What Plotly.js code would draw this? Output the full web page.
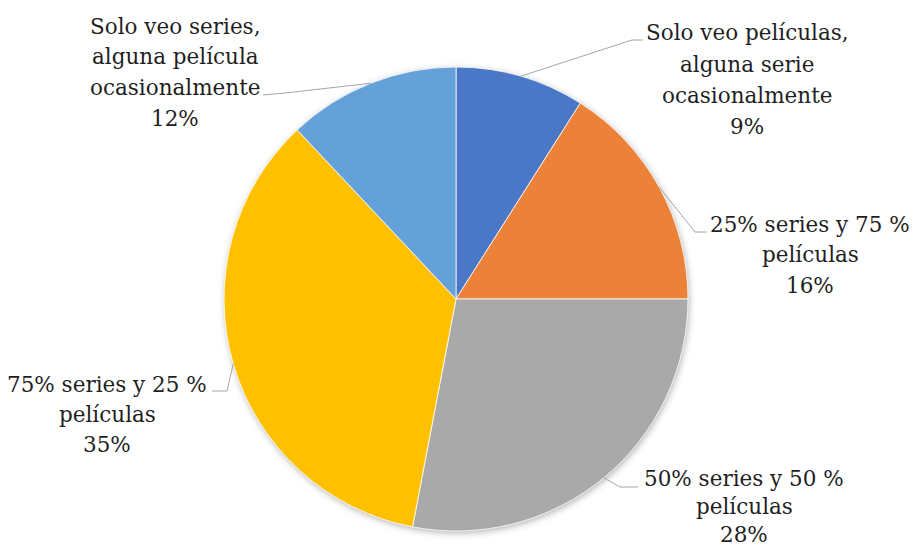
<!DOCTYPE html>
<html>
<head>
<meta charset="utf-8">
<script src="https://cdn.plot.ly/plotly-3.0.1.min.js"></script>
<style>
  html, body { margin: 0; padding: 0; background: #fff; }
  #chart { width: 914px; height: 549px; }
  .pielayer { filter: drop-shadow(1px 2px 3px rgba(0,0,0,0.28)); }
</style>
</head>
<body>
<div id="chart"></div>
<script>
// Survey categories (clockwise from 12 o'clock) and their shares in percent
const categories = [
  ["Solo veo películas,", "alguna serie", "ocasionalmente"],
  ["25% series y 75 %", "películas"],
  ["50% series y 50 %", "películas"],
  ["75% series y 25 %", "películas"],
  ["Solo veo series,", "alguna película", "ocasionalmente"]
];
const values = [9, 16, 28, 35, 12];
const colors = ["#4A78C6", "#EC8239", "#A9A9A9", "#FFC000", "#64A1D8"];

const W = 914, H = 549;
const cx = 456, cy = 299, R = 232;          // pie centre and radius in pixels
const px = x => x / W;
const py = y => 1 - y / H;
const FONT = { family: "DejaVu Serif, Liberation Serif, serif", size: 21.5, color: "#1F1F1F" };

// Label block: horizontal centre, centre of the first line, line pitch,
// plus the elbow and end point of the leader line
const labelPlace = [
  { x: 747, y0: 33,  dy: 31,   elbow: [632, 40],  end: [643, 40] },
  { x: 810, y0: 224, dy: 30.5, elbow: [695, 232], end: [707, 232] },
  { x: 744, y0: 478, dy: 28,   elbow: [620, 487], end: [638, 487] },
  { x: 107, y0: 384, dy: 30.3, elbow: [227, 391], end: [212, 391] },
  { x: 175, y0: 26,  dy: 30.7, elbow: [285, 93],  end: [263, 95] }
];

const total = values.reduce((a, b) => a + b, 0);
const annotations = [];
const shapes = [];
let acc = 0;
values.forEach((v, i) => {
  const mid = (acc + v / 2) / total * 2 * Math.PI;   // clockwise from top
  acc += v;
  const sx = cx + R * Math.sin(mid);
  const sy = cy - R * Math.cos(mid);
  const L = labelPlace[i];
  shapes.push({
    type: "path", xref: "paper", yref: "paper",
    path: `M ${px(sx)} ${py(sy)} L ${px(L.elbow[0])} ${py(L.elbow[1])} L ${px(L.end[0])} ${py(L.end[1])}`,
    line: { color: "#A6A6A6", width: 1 }
  });
  const lines = categories[i].concat([Math.round(v / total * 100) + "%"]);
  lines.forEach((t, k) => {
    annotations.push({
      xref: "paper", yref: "paper", x: px(L.x), y: py(L.y0 + k * L.dy),
      xanchor: "center", yanchor: "middle", showarrow: false, align: "center",
      borderpad: 0, text: t, font: FONT
    });
  });
});

const trace = {
  type: "pie",
  labels: categories.map(c => c.join(" ")),
  values: values,
  sort: false,
  direction: "clockwise",
  rotation: 0,
  marker: { colors: colors, line: { color: "#FFFFFF", width: 0.8 } },
  textinfo: "none",
  hoverinfo: "label+percent",
  domain: { x: [px(cx - R), px(cx + R)], y: [py(cy + R), py(cy - R)] }
};

const layout = {
  width: W, height: H,
  margin: { l: 0, r: 0, t: 0, b: 0 },
  paper_bgcolor: "#FFFFFF",
  showlegend: false,
  annotations: annotations,
  shapes: shapes
};

Plotly.newPlot("chart", [trace], layout, { displayModeBar: false, staticPlot: true });
</script>
</body>
</html>
